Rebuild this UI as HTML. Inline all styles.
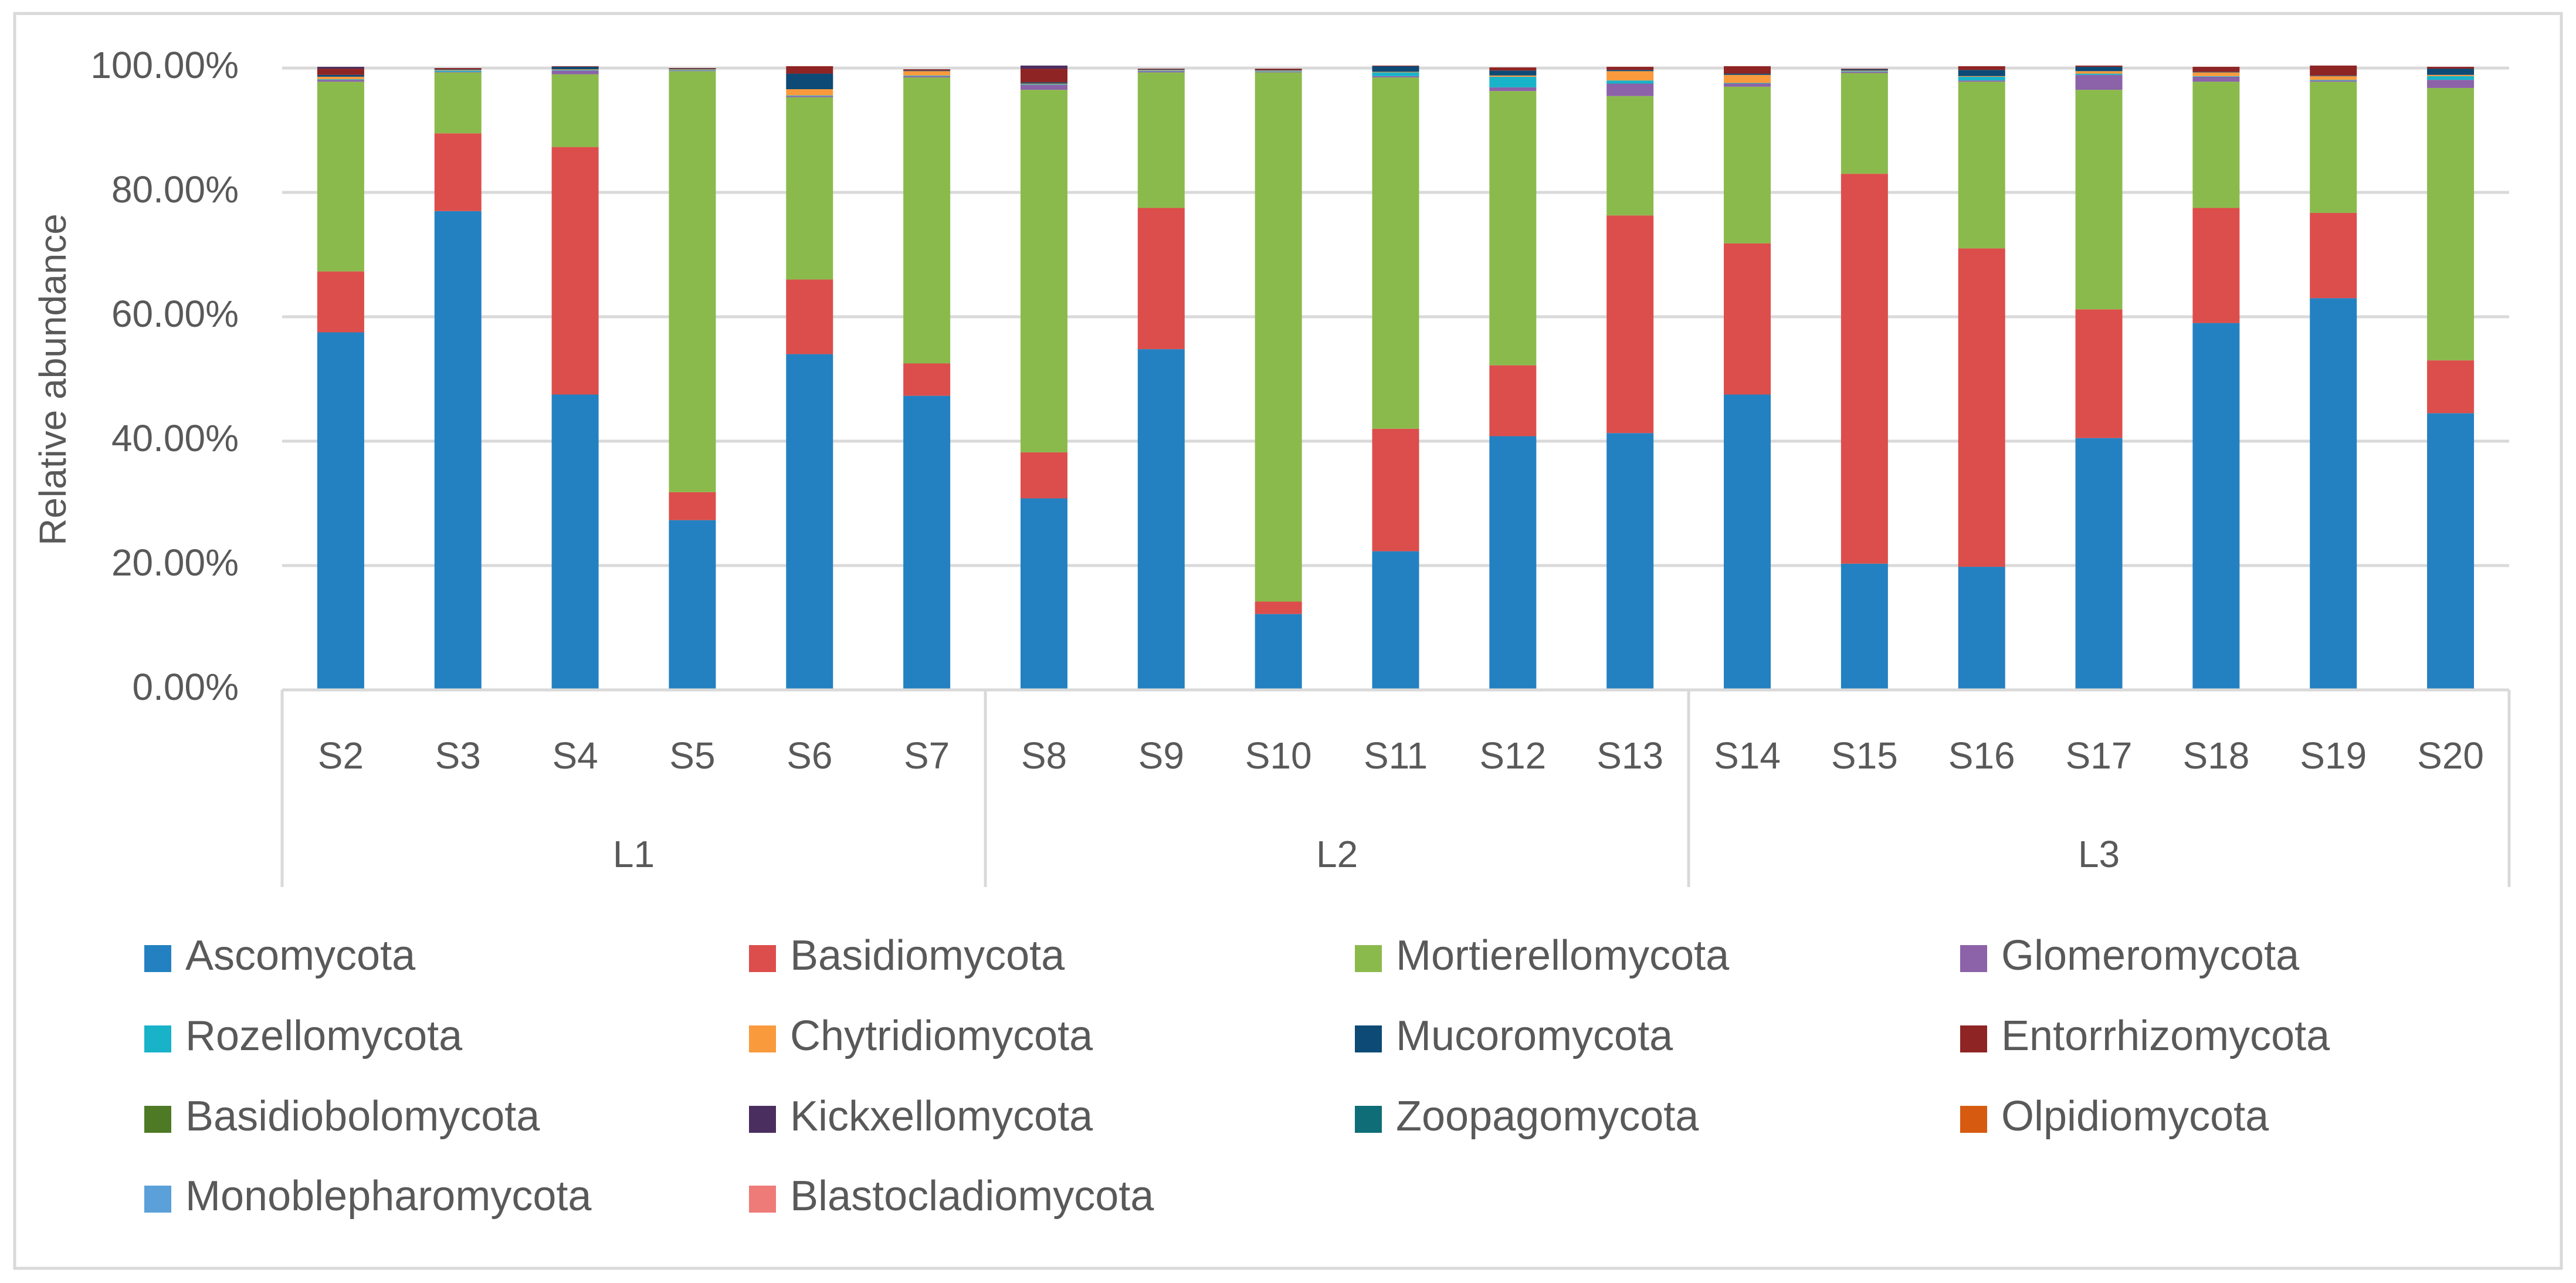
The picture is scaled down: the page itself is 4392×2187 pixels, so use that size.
<!DOCTYPE html>
<html><head><meta charset="utf-8">
<style>
html,body{margin:0;padding:0;background:#fff;}
svg{display:block;}
text{font-family:"Liberation Sans",Arial,sans-serif;fill:#595959;}
</style></head>
<body>
<svg id="chart" width="4392" height="2187" viewBox="0 0 4392 2187" xmlns="http://www.w3.org/2000/svg">
<rect x="25" y="23" width="4342" height="2139" fill="#fff" stroke="#d9d9d9" stroke-width="5"/>
<g id="grid"></g>
<g id="yticks"></g>
<text x="95" y="647" font-size="64" text-anchor="middle" transform="rotate(-90 95 647)" dominant-baseline="middle">Relative abundance</text>
<g id="bars"></g>
<g id="xaxis"></g>
<g id="legend"></g>
</svg>
<script>
const samples = ["S2","S3","S4","S5","S6","S7","S8","S9","S10","S11","S12","S13","S14","S15","S16","S17","S18","S19","S20"];
const groups = ["L1","L2","L3"];
const groupSizes = [6,6,7];
const phyla = ["Ascomycota","Basidiomycota","Mortierellomycota","Glomeromycota","Rozellomycota","Chytridiomycota","Mucoromycota","Entorrhizomycota","Basidiobolomycota","Kickxellomycota","Zoopagomycota","Olpidiomycota","Monoblepharomycota","Blastocladiomycota"];
const colors = ["#2481c1","#dc4e4b","#8bba4c","#8c62a8","#18b3c9","#f99a3c","#0d4a75","#8f2424","#4e7a25","#4b2e60","#0f6d77","#d65b10","#5ba0d8","#ee7b78"];
const ascomycota = [57.5,77,47.5,27.3,54,47.3,30.8,54.8,12.2,22.3,40.8,41.3,47.5,20.3,19.8,40.5,59,63,44.5];
const basidiomycota = [9.8,12.5,39.8,4.5,12,5.2,7.4,22.7,2,19.7,11.4,35,24.3,62.7,51.2,20.7,18.5,13.7,8.5];
const mortierellomycota = [30.5,9.8,11.7,67.7,29.3,46,58.3,21.8,85.1,56.5,44.1,19.2,25.2,16.2,26.8,35.3,20.3,21.1,43.8];
const glomeromycota = [0.3,0.1,0.6,0.1,0.2,0.2,0.8,0.2,0.1,0.2,0.6,2.0,0.5,0.2,0.2,2.4,0.8,0.2,1.3];
const rozellomycota = [0.1,0.2,0.1,0.1,0.1,0.1,0.1,0.1,0.1,0.6,1.7,0.5,0.1,0.1,0.6,0.2,0.1,0.1,0.6];
const chytridiomycota = [0.4,0.1,0.1,0.1,1.0,0.7,0.1,0.1,0.1,0.1,0.2,1.5,1.3,0.1,0.1,0.4,0.6,0.6,0.2];
const mucoromycota = [0.3,0.1,0.4,0.1,2.5,0.1,0.2,0.1,0.1,0.9,0.8,0.2,0.2,0.2,1.0,0.7,0.1,0.1,1.0];
const entorrhizomycota = [1.0,0.2,0.1,0.1,1.2,0.2,2.2,0.1,0.2,0.1,0.5,0.5,1.2,0.1,0.6,0.2,0.8,1.6,0.3];
const basidiobolomycota = [0,0,0,0,0,0,0,0,0,0,0,0,0,0,0,0,0,0,0];
const kickxellomycota = [0.3,0,0,0,0,0,0.5,0,0,0,0,0,0,0,0,0,0,0,0];
const zoopagomycota = [0,0,0,0,0,0,0,0,0,0,0,0,0,0,0,0,0,0,0];
const olpidiomycota = [0,0,0,0,0,0,0,0,0,0,0,0,0,0,0,0,0,0,0];
const monoblepharomycota = [0,0,0,0,0,0,0,0,0,0,0,0,0,0,0,0,0,0,0];
const blastocladiomycota = [0,0,0,0,0,0,0,0,0,0,0,0,0,0,0,0,0,0,0];
const series = [ascomycota,basidiomycota,mortierellomycota,glomeromycota,rozellomycota,chytridiomycota,mucoromycota,entorrhizomycota,basidiobolomycota,kickxellomycota,zoopagomycota,olpidiomycota,monoblepharomycota,blastocladiomycota];
const yTicks = [0,20,40,60,80,100];
const yTickLabels = ["0.00%","20.00%","40.00%","60.00%","80.00%","100.00%"];

const NS = "http://www.w3.org/2000/svg";
const X0 = 481, X1 = 4278, Y0 = 1176, Y1 = 116;
const step = (X1 - X0) / samples.length;
const yScale = v => Y0 - (v / 100) * (Y0 - Y1);
const xCenter = i => X0 + (i + 0.5) * step;
function mk(tag, attrs, parent) {
  const e = document.createElementNS(NS, tag);
  for (const k in attrs) e.setAttribute(k, attrs[k]);
  parent.appendChild(e);
  return e;
}
const grid = document.getElementById("grid");
const yt = document.getElementById("yticks");
yTicks.forEach((t, i) => {
  if (t > 0) {
    const l = mk("line", {x1: X0, x2: X1, y1: yScale(t), y2: yScale(t), stroke: "#d9d9d9", "stroke-width": 5}, grid);
    
    
  }
  const tx = mk("text", {x: 407, y: yScale(t), "font-size": 64, "text-anchor": "end", "dominant-baseline": "middle"}, yt);
  tx.textContent = yTickLabels[i];
  
  
});
const bars = document.getElementById("bars");
const bw = 80;
samples.forEach((s, i) => {
  let cum = 0;
  series.forEach((arr, k) => {
    const v = arr[i];
    if (v <= 0) { return; }
    const yTop = yScale(cum + v), yBot = yScale(cum);
    const r = mk("rect", {x: xCenter(i) - bw / 2, y: yTop, width: bw, height: yBot - yTop, fill: colors[k]}, bars);
    
    
    cum += v;
  });
});
const xa = document.getElementById("xaxis");
const axisLine = mk("line", {x1: X0, x2: X1, y1: Y0, y2: Y0, stroke: "#d9d9d9", "stroke-width": 5}, xa);


samples.forEach((s, i) => {
  const tx = mk("text", {x: xCenter(i), y: 1293, "font-size": 64, "text-anchor": "middle", "dominant-baseline": "middle"}, xa);
  tx.textContent = s;
  
  
});
let start = 0;
const bounds = [0];
groupSizes.forEach(n => { start += n; bounds.push(start); });
bounds.forEach(b => {
  const l = mk("line", {x1: X0 + b * step, x2: X0 + b * step, y1: Y0, y2: 1512, stroke: "#d9d9d9", "stroke-width": 5}, xa);
  
  
});
groups.forEach((g, j) => {
  const cx = X0 + (bounds[j] + bounds[j + 1]) / 2 * step;
  const tx = mk("text", {x: cx, y: 1461, "font-size": 64, "text-anchor": "middle", "dominant-baseline": "middle"}, xa);
  tx.textContent = g;
  
  
});
const lg = document.getElementById("legend");
const colX = [246, 1277, 2310, 3342];
const rowY = [1634, 1771, 1908, 2044];
phyla.forEach((p, k) => {
  const cx = colX[k % 4], cy = rowY[Math.floor(k / 4)];
  const g = mk("g", {}, lg);
  
  
  const r = mk("rect", {x: cx, y: cy - 23, width: 46, height: 46, fill: colors[k]}, g);
  
  
  const tx = mk("text", {x: cx + 70, y: cy, "font-size": 72, "dominant-baseline": "middle"}, g);
  tx.textContent = p;
  
  
});
</script>
</body></html>
